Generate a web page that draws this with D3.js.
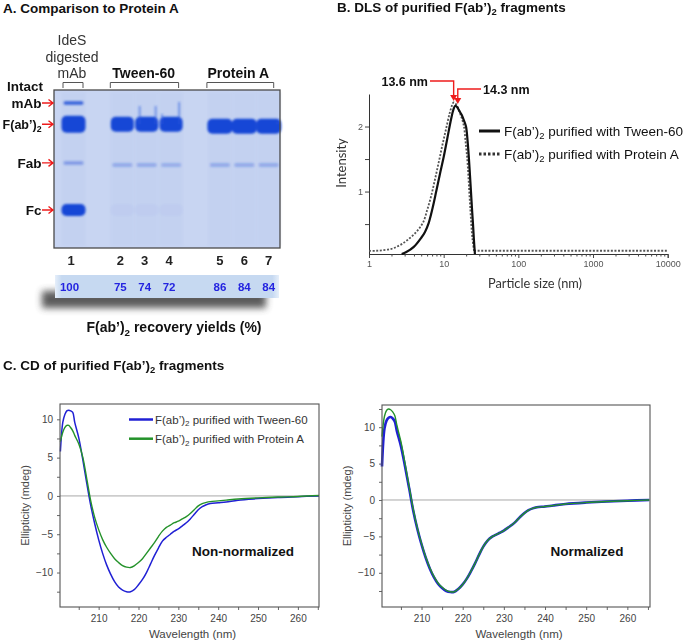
<!DOCTYPE html>
<html><head><meta charset="utf-8">
<script src="https://cdn.jsdelivr.net/npm/d3@7"></script>
<style>body{margin:0;background:#fff}svg{display:block;font-family:'Liberation Sans',Arial,sans-serif}</style>
</head><body><svg id="c" width="685" height="642"></svg>
<script>
// ---------------- DATA ----------------
// Panel A: SDS-PAGE gel
const laneSlots = ['1','gap1','2','3','4','gap2','5','6','7'];
const lanes = ['1','2','3','4','5','6','7'];
const species = ['Intact mAb','F(ab’)2','Fab','Fc'];
const speciesMW = [150, 105, 55, 25];            // apparent kDa
const intactBand = [0.8, 0, 0, 0, 0, 0, 0];
const fab2Band   = [1, 1, 1, 1, 1, 1, 1];
const fabBand    = [0.4, 0.3, 0.3, 0.28, 0.3, 0.3, 0.3];
const fcBand     = [1, 0.02, 0.02, 0.02, 0, 0, 0];
const recoveryYields = [100, 75, 74, 72, 86, 84, 84];
const groupNames = ['Tween-60', 'Protein A'];

// Panel B: DLS
const dlsTweenSize = [2.74, 3.16, 3.98, 5.01, 5.62, 6.31, 7.08, 7.94, 8.91, 10, 11.2, 12.6, 13.5, 14.3, 15.1, 16.2, 17.4, 18.6, 19.9, 20.9, 21.8, 22.5, 23.2, 23.9, 24.7, 25.4, 26.2];
const dlsTweenInt  = [0.04, 0.07, 0.15, 0.29, 0.38, 0.52, 0.74, 1.0, 1.27, 1.53, 1.82, 2.12, 2.26, 2.32, 2.3, 2.24, 2.18, 2.1, 2.0, 1.78, 1.5, 1.25, 1.0, 0.75, 0.5, 0.26, 0.04];
const dlsProtSize  = [1, 1.26, 1.58, 2.0, 2.34, 2.82, 3.31, 3.98, 4.68, 5.33, 6.03, 6.76, 7.59, 8.51, 9.55, 10.7, 12.0, 12.9, 13.6, 14.5, 15.5, 16.6, 17.8, 18.7, 19.7, 20.7, 21.4, 22.0, 22.7, 23.4, 24.3, 25.5, 100, 1000, 10000];
const dlsProtInt   = [0.09, 0.09, 0.1, 0.12, 0.15, 0.2, 0.26, 0.34, 0.43, 0.53, 0.72, 0.92, 1.17, 1.43, 1.7, 1.95, 2.2, 2.32, 2.37, 2.35, 2.29, 2.2, 2.1, 2.0, 1.75, 1.5, 1.25, 1.0, 0.75, 0.5, 0.27, 0.09, 0.09, 0.09, 0.09];
const dlsPeaks = [13.6, 14.3];

// Panel C: CD spectra
const cdWavelength = [200.4,201,201.5,202,202.5,203,203.5,204,205,206,207,208,209,210,211,212,213,214,215,216,217,218,219,220,221,222,223,224,225,226,227,228,229,230,231,232,233,234,235,236,237,238,240,242,245,250,255,260,265.3];
const cdTweenRaw = [5.8,9.6,10.6,11.1,11.2,11.1,10.9,9.6,7.6,4.8,1.7,-1.2,-3.6,-5.7,-7.5,-9.0,-10.2,-11.2,-11.9,-12.3,-12.5,-12.5,-12.2,-11.6,-10.9,-10.0,-8.9,-7.8,-6.8,-5.9,-5.4,-5.0,-4.6,-4.3,-3.9,-3.5,-3.0,-2.4,-1.8,-1.4,-1.15,-1.0,-0.9,-0.8,-0.55,-0.35,-0.2,-0.1,0];
const cdProtARaw = [7.1,8.3,8.9,9.2,9.2,8.9,8.5,7.9,6.8,5.1,2.3,-0.6,-2.8,-4.4,-5.7,-6.7,-7.5,-8.2,-8.7,-9.1,-9.3,-9.35,-9.1,-8.7,-8.2,-7.5,-6.8,-6.1,-5.3,-4.6,-4.1,-3.8,-3.5,-3.3,-3.0,-2.7,-2.3,-1.8,-1.3,-1.0,-0.85,-0.75,-0.65,-0.55,-0.4,-0.25,-0.15,-0.08,0.05];
const cdTweenNorm = [4.6,9.8,10.9,11.3,11.4,11.2,10.8,9.5,7.4,4.6,1.6,-1.5,-4.0,-6.1,-7.9,-9.4,-10.6,-11.5,-12.1,-12.5,-12.65,-12.6,-12.2,-11.6,-10.8,-9.8,-8.7,-7.5,-6.4,-5.6,-5.1,-4.8,-4.5,-4.2,-3.8,-3.4,-2.9,-2.3,-1.8,-1.4,-1.15,-1.0,-0.9,-0.75,-0.55,-0.35,-0.2,-0.1,0];
const cdProtANorm = [8.7,11.5,12.3,12.5,12.4,12.1,11.6,10.3,8.0,5.0,1.8,-1.3,-3.9,-6.0,-7.8,-9.3,-10.5,-11.4,-12.0,-12.4,-12.6,-12.6,-12.2,-11.6,-10.8,-9.8,-8.7,-7.5,-6.4,-5.6,-5.1,-4.8,-4.5,-4.2,-3.8,-3.4,-2.9,-2.3,-1.8,-1.4,-1.15,-1.0,-0.9,-0.75,-0.55,-0.35,-0.2,-0.1,0];
const cdSeriesNames = ['F(ab’)2 purified with Tween-60', 'F(ab’)2 purified with Protein A'];

// ---------------- HELPERS ----------------
const svg = d3.select('#c');
const defs = svg.append('defs');
defs.append('filter').attr('id','blur').attr('x','-30%').attr('y','-60%').attr('width','160%').attr('height','220%')
  .append('feGaussianBlur').attr('stdDeviation', 1.1);
defs.append('filter').attr('id','shadow').attr('x','-20%').attr('y','-80%').attr('width','140%').attr('height','260%')
  .append('feGaussianBlur').attr('stdDeviation', 3.8);
const yg = defs.append('linearGradient').attr('id','ybar').attr('x1',0).attr('x2',1).attr('y1',0).attr('y2',0);
yg.append('stop').attr('offset','0%').attr('stop-color','#e6effa');
yg.append('stop').attr('offset','3%').attr('stop-color','#c6d9f1');
yg.append('stop').attr('offset','97%').attr('stop-color','#c6d9f1');
yg.append('stop').attr('offset','100%').attr('stop-color','#e6effa');

function fabText(sel, str, size) {
  const parts = str.split('F(ab’)2');
  sel.text(null);
  parts.forEach((p, i) => {
    if (i > 0) {
      sel.append('tspan').text('F(ab’)');
      sel.append('tspan').attr('dy', size*0.25).attr('font-size', size*0.7).text('2');
      sel.append('tspan').attr('dy', -size*0.25).text(p);
    } else if (p) sel.append('tspan').text(p);
  });
  return sel;
}
function titleText(x, y, str, size, anchor) {
  const t = svg.append('text').attr('x', x).attr('y', y).attr('font-size', size)
    .attr('font-weight','bold').attr('fill','#111').attr('text-anchor', anchor || 'start');
  return fabText(t, str, size);
}

// ---------------- PANEL A ----------------
titleText(3, 13, 'A. Comparison to Protein A', 13.5);

const xLane = d3.scalePoint().domain(laneSlots).range([73.5, 268.7]);
const yBand = d3.scaleLog().domain([150, 25]).range([103, 210]);

const gelG = svg.append('g');
gelG.append('rect').attr('x',54).attr('y',90).attr('width',226).attr('height',158)
  .attr('fill','#c8d5f2');
gelG.selectAll('.track').data(lanes).join('rect')
  .attr('x', d => xLane(d) - 12).attr('y', 92).attr('width', 24).attr('height', 154)
  .attr('fill', '#bccbee').attr('opacity', 0.35).attr('filter','url(#blur)');

const bandSets = [intactBand, fab2Band, fabBand, fcBand];
const bandH = [3.5, 15, 3.5, 12];
const bandW = [20, 23, 20, 24];
const bandsG = gelG.append('g').attr('filter','url(#blur)');
species.forEach((sp, si) => {
  bandSets[si].forEach((inten, li) => {
    if (inten <= 0) return;
    const lane = lanes[li];
    const cx = xLane(lane), cy = yBand(speciesMW[si]) + (li >= 4 && si === 1 ? 2 : 0) + (li > 0 && si === 2 ? 2 : 0);
    let h = bandH[si], w = bandW[si];
    if (li === 0 && si === 1) { h = 17; w = 24; }
    if (li >= 4 && si === 1) { w = 25; h = 15; }
    bandsG.append('rect').attr('x', cx - w/2).attr('y', cy - h/2).attr('width', w).attr('height', h)
      .attr('rx', Math.min(h/2, 5)).attr('fill', '#1747d6').attr('opacity', inten);
  });
});
[['3', [-7, 9], [8, 8]], ['4', [-9, 8], [16, 4]], ['7', [9], [24]]].forEach(([lane, offs, tops]) => {
  offs.forEach((o, k) => {
    const y0 = yBand(150) - 5 + tops[k];
    bandsG.append('rect').attr('x', xLane(lane) + o - 1).attr('y', y0)
      .attr('width', 2).attr('height', yBand(105) - y0).attr('fill', '#2a5ae0').attr('opacity', 0.5);
  });
});
gelG.append('rect').attr('x',54).attr('y',90).attr('width',226).attr('height',158)
  .attr('fill','none').attr('stroke','#4a4a4a').attr('stroke-width',1.3);

const leftLabels = ['mAb','F(ab’)2','Fab','Fc'];
svg.append('text').attr('x', 43).attr('y', yBand(speciesMW[0]) - 12).attr('text-anchor','end')
  .attr('font-size',13.5).attr('font-weight','bold').attr('fill','#111').text('Intact');
leftLabels.forEach((lab, i) => {
  const y = yBand(speciesMW[i]);
  const fs = i === 1 ? 12.5 : 13.5;
  const t = svg.append('text').attr('x', 41.5).attr('y', y + 5).attr('text-anchor','end')
    .attr('font-size', fs).attr('font-weight','bold').attr('fill','#111');
  fabText(t, lab, fs);
  svg.append('path').attr('d', `M42,${y}H53M48.5,${y-3.5}L53,${y}L48.5,${y+3.5}`)
    .attr('fill','none').attr('stroke','#ee1c1c').attr('stroke-width',1.4);
});

['IdeS','digested','mAb'].forEach((s, i) => {
  svg.append('text').attr('x', xLane('1') - 1.5).attr('y', 45 + i*16.5).attr('text-anchor','middle')
    .attr('font-size',14).attr('fill','#333').text(s);
});
const brackets = [['1','1',-10.5,9.5],['2','4',-12,7.5],['5','7',-13,5]];
brackets.forEach(([a, b, pa, pb]) => {
  const x1 = xLane(a) + pa, x2 = xLane(b) + pb;
  svg.append('path').attr('d', `M${x1},88V82.5H${x2}V88`).attr('fill','none').attr('stroke','#555').attr('stroke-width',1);
});
svg.append('text').attr('x', (xLane('2') + xLane('4'))/2 - 3).attr('y', 78).attr('text-anchor','middle')
  .attr('font-size',14).attr('font-weight','bold').attr('fill','#111').text(groupNames[0]);
svg.append('text').attr('x', (xLane('5') + xLane('7'))/2 - 6).attr('y', 78).attr('text-anchor','middle')
  .attr('font-size',14).attr('font-weight','bold').attr('fill','#111').text(groupNames[1]);

svg.selectAll('.laneNum').data(lanes).join('text')
  .attr('x', (d, i) => xLane(d) - (i === 0 ? 2.5 : i < 4 ? 2 : 0)).attr('y', 265).attr('text-anchor','middle')
  .attr('font-size',13).attr('font-weight','bold').attr('fill','#222').text(d => d);

svg.append('rect').attr('x', 42).attr('y', 291).attr('width', 224).attr('height', 17)
  .attr('fill','#4a4a4a').attr('opacity',0.9).attr('filter','url(#shadow)');
svg.append('rect').attr('x', 55).attr('y', 275).attr('width', 224).attr('height', 23).attr('fill','url(#ybar)');
svg.selectAll('.yield').data(recoveryYields).join('text')
  .attr('x', (d, i) => xLane(lanes[i]) - (i === 0 ? 4 : i < 4 ? 2 : 0)).attr('y', 291).attr('text-anchor','middle')
  .attr('font-size',11.5).attr('font-weight','bold').attr('fill','#2424e0').text(d => d);
titleText(174, 332, 'F(ab’)2 recovery yields (%)', 14, 'middle');

// ---------------- PANEL B ----------------
titleText(337, 12, 'B. DLS of purified F(ab’)2 fragments', 13.5);

const xD = d3.scaleLog().domain([1, 10000]).range([369, 667.7]);
const yD = d3.scaleLinear().domain([0.04, 2.5]).range([254, 94]);
const bG = svg.append('g');
const xAx = bG.append('g').attr('transform','translate(0,254)')
  .call(d3.axisBottom(xD).tickValues([1,10,100,1000,10000]).tickFormat(d3.format('d')).tickSize(4).tickPadding(3));
const minorX = [];
[1,10,100,1000].forEach(dec => { for (let k = 2; k <= 9; k++) minorX.push(dec*k); });
bG.append('g').attr('transform','translate(0,254)')
  .call(d3.axisBottom(xD).tickValues(minorX).tickFormat('').tickSize(2.5)).select('.domain').remove();
xAx.selectAll('text').attr('font-size', 9).attr('fill','#555');
xAx.select('.domain').attr('stroke','#333');
bG.selectAll('.tick line').attr('stroke','#444');
const yAx = bG.append('g').attr('transform','translate(369,0)')
  .call(d3.axisLeft(yD).tickValues([0.5,1,1.5,2]).tickFormat(d => Number.isInteger(d) ? d : '').tickSize(4).tickPadding(2).tickSizeOuter(0));
yAx.selectAll('text').attr('font-size', 9).attr('fill','#555');
yAx.select('.domain').attr('stroke','#333');
yAx.selectAll('.tick line').attr('stroke','#444');

bG.append('text').attr('transform','translate(346,163) rotate(-90)').attr('text-anchor','middle')
  .attr('font-family','Lato, sans-serif').attr('font-size',13).attr('fill','#333').text('Intensity');
bG.append('text').attr('x', 535).attr('y', 288).attr('text-anchor','middle')
  .attr('font-family','Lato, sans-serif').attr('font-size',12.8).attr('fill','#333').text('Particle size (nm)');

const dlsCurve = d3.line().x(d => xD(d[0])).y(d => yD(d[1])).curve(d3.curveCatmullRom.alpha(0.5));
const dlsStraight = d3.line().x(d => xD(d[0])).y(d => yD(d[1]));
const protPts = d3.zip(dlsProtSize, dlsProtInt);
const tailStart = dlsProtSize.indexOf(25.5);
bG.append('path').datum(protPts.slice(0, tailStart + 1)).attr('d', dlsCurve)
  .attr('fill','none').attr('stroke','#555').attr('stroke-width',1.8).attr('stroke-dasharray','2,1.6');
bG.append('path').datum(protPts.slice(tailStart)).attr('d', dlsStraight)
  .attr('fill','none').attr('stroke','#555').attr('stroke-width',1.8).attr('stroke-dasharray','2,1.6');
bG.append('path').datum(d3.zip(dlsTweenSize, dlsTweenInt)).attr('d', dlsCurve)
  .attr('fill','none').attr('stroke','#111').attr('stroke-width',2.2);

const peakAnn = [
  {v: dlsPeaks[0], label: '13.6 nm', ly: 81, lx: 428, tipY: 101, side: 'left'},
  {v: dlsPeaks[1], label: '14.3 nm', ly: 89, lx: 483, tipY: 104, side: 'right'}
];
peakAnn.forEach((a, i) => {
  const px = xD(a.v) + (i === 1 ? 2.5 : 0);
  const sx = a.side === 'left' ? a.lx + 2 : a.lx - 2;
  bG.append('path').attr('d', `M${sx},${a.ly}H${px}V${a.tipY - 5}`).attr('fill','none').attr('stroke','#ee1c1c').attr('stroke-width',1.4);
  bG.append('path').attr('d', `M${px-3.5},${a.tipY-6}L${px+3.5},${a.tipY-6}L${px},${a.tipY}Z`).attr('fill','#ee1c1c');
  bG.append('text').attr('x', a.lx).attr('y', a.ly + 4.5).attr('text-anchor', a.side === 'left' ? 'end' : 'start')
    .attr('font-size',12.5).attr('font-weight','bold').attr('fill','#111').text(a.label);
});

const dlsLegend = [{y: 131, dash: null, w: 3, c: '#111', name: cdSeriesNames[0]}, {y: 154, dash: '2.5,2', w: 3, c: '#333', name: cdSeriesNames[1]}];
dlsLegend.forEach(l => {
  bG.append('line').attr('x1', 479).attr('x2', 500).attr('y1', l.y).attr('y2', l.y)
    .attr('stroke', l.c).attr('stroke-width', l.w).attr('stroke-dasharray', l.dash);
  const t = bG.append('text').attr('x', 504).attr('y', l.y + 5).attr('font-size', 13.5).attr('fill','#111');
  fabText(t, l.name, 13.5);
});

// ---------------- PANEL C ----------------
titleText(3, 370, 'C. CD of purified F(ab’)2 fragments', 13.5);

function drawCD(o) {
  const g = svg.append('g');
  const x = d3.scaleLinear().domain(o.xd).range([o.l, o.r]);
  const y = d3.scaleLinear().domain(o.yd).range([o.b, o.t]);
  g.append('g').attr('transform',`translate(0,${o.b})`)
    .call(d3.axisBottom(x).tickValues([210,220,230,240,250,260]).tickSize(3).tickPadding(5));
  g.append('g').attr('transform',`translate(0,${o.b})`)
    .call(d3.axisBottom(x).tickValues([205,215,225,235,245,255,265]).tickFormat('').tickSize(3));
  g.append('g').attr('transform',`translate(${o.l},0)`)
    .call(d3.axisLeft(y).tickValues([-10,-5,0,5,10]).tickSize(3).tickPadding(4));
  g.append('g').attr('transform',`translate(${o.l},0)`)
    .call(d3.axisLeft(y).tickValues([-12.5,-7.5,-2.5,2.5,7.5,12.5].filter(v => v >= o.yd[0] && v <= o.yd[1])).tickFormat('').tickSize(3));
  g.selectAll('.domain').remove();
  g.selectAll('.tick line').attr('stroke','#666');
  g.selectAll('.tick text').attr('font-size',10).attr('fill','#444');
  g.append('line').attr('x1', o.l).attr('x2', o.r).attr('y1', y(0)).attr('y2', y(0)).attr('stroke','#a8a8a8').attr('stroke-width',1);
  const line = d3.line().x(d => x(d[0])).y(d => y(d[1])).curve(d3.curveCatmullRom.alpha(0.5));
  g.append('path').datum(d3.zip(cdWavelength, o.blue)).attr('d', line)
    .attr('fill','none').attr('stroke','#2020d4').attr('stroke-width', o.bw);
  g.append('path').datum(d3.zip(cdWavelength, o.green)).attr('d', line)
    .attr('fill','none').attr('stroke','#24922a').attr('stroke-width', 1.4);
  g.append('rect').attr('x', o.l).attr('y', o.t).attr('width', o.r - o.l).attr('height', o.b - o.t)
    .attr('fill','none').attr('stroke','#555').attr('stroke-width',1.1);
  g.append('text').attr('transform',`translate(${o.yl},${(o.t + o.b)/2}) rotate(-90)`).attr('text-anchor','middle')
    .attr('font-size',11).attr('fill','#444').text('Ellipticity (mdeg)');
  g.append('text').attr('x', (o.l + o.r)/2 + 3).attr('y', 638).attr('text-anchor','middle')
    .attr('font-size',11.5).attr('fill','#444').text('Wavelength (nm)');
  g.append('text').attr('x', o.lx).attr('y', 556).attr('text-anchor','middle')
    .attr('font-size',13.5).attr('font-weight','bold').attr('fill','#111').text(o.label);
  if (o.legend) {
    [['#2020d4', 419.5], ['#24922a', 438.7]].forEach(([c, ly], i) => {
      g.append('line').attr('x1', 129).attr('x2', 153).attr('y1', ly).attr('y2', ly).attr('stroke', c).attr('stroke-width', 2.5);
      const t = g.append('text').attr('x', 155).attr('y', ly + 4).attr('font-size', 11.5).attr('fill','#333');
      fabText(t, cdSeriesNames[i], 11.5);
    });
  }
}
drawCD({l: 60, r: 319, t: 404, b: 607, xd: [200.3, 265.3], yd: [-14.5, 12], blue: cdTweenRaw, green: cdProtARaw,
        bw: 1.5, yl: 29, lx: 243, label: 'Non-normalized', legend: true});
drawCD({l: 382, r: 650, t: 405, b: 607, xd: [200.4, 265.5], yd: [-14.7, 13.05], blue: cdTweenNorm, green: cdProtANorm,
        bw: 2.6, yl: 351, lx: 587, label: 'Normalized', legend: false});
</script></body></html>
